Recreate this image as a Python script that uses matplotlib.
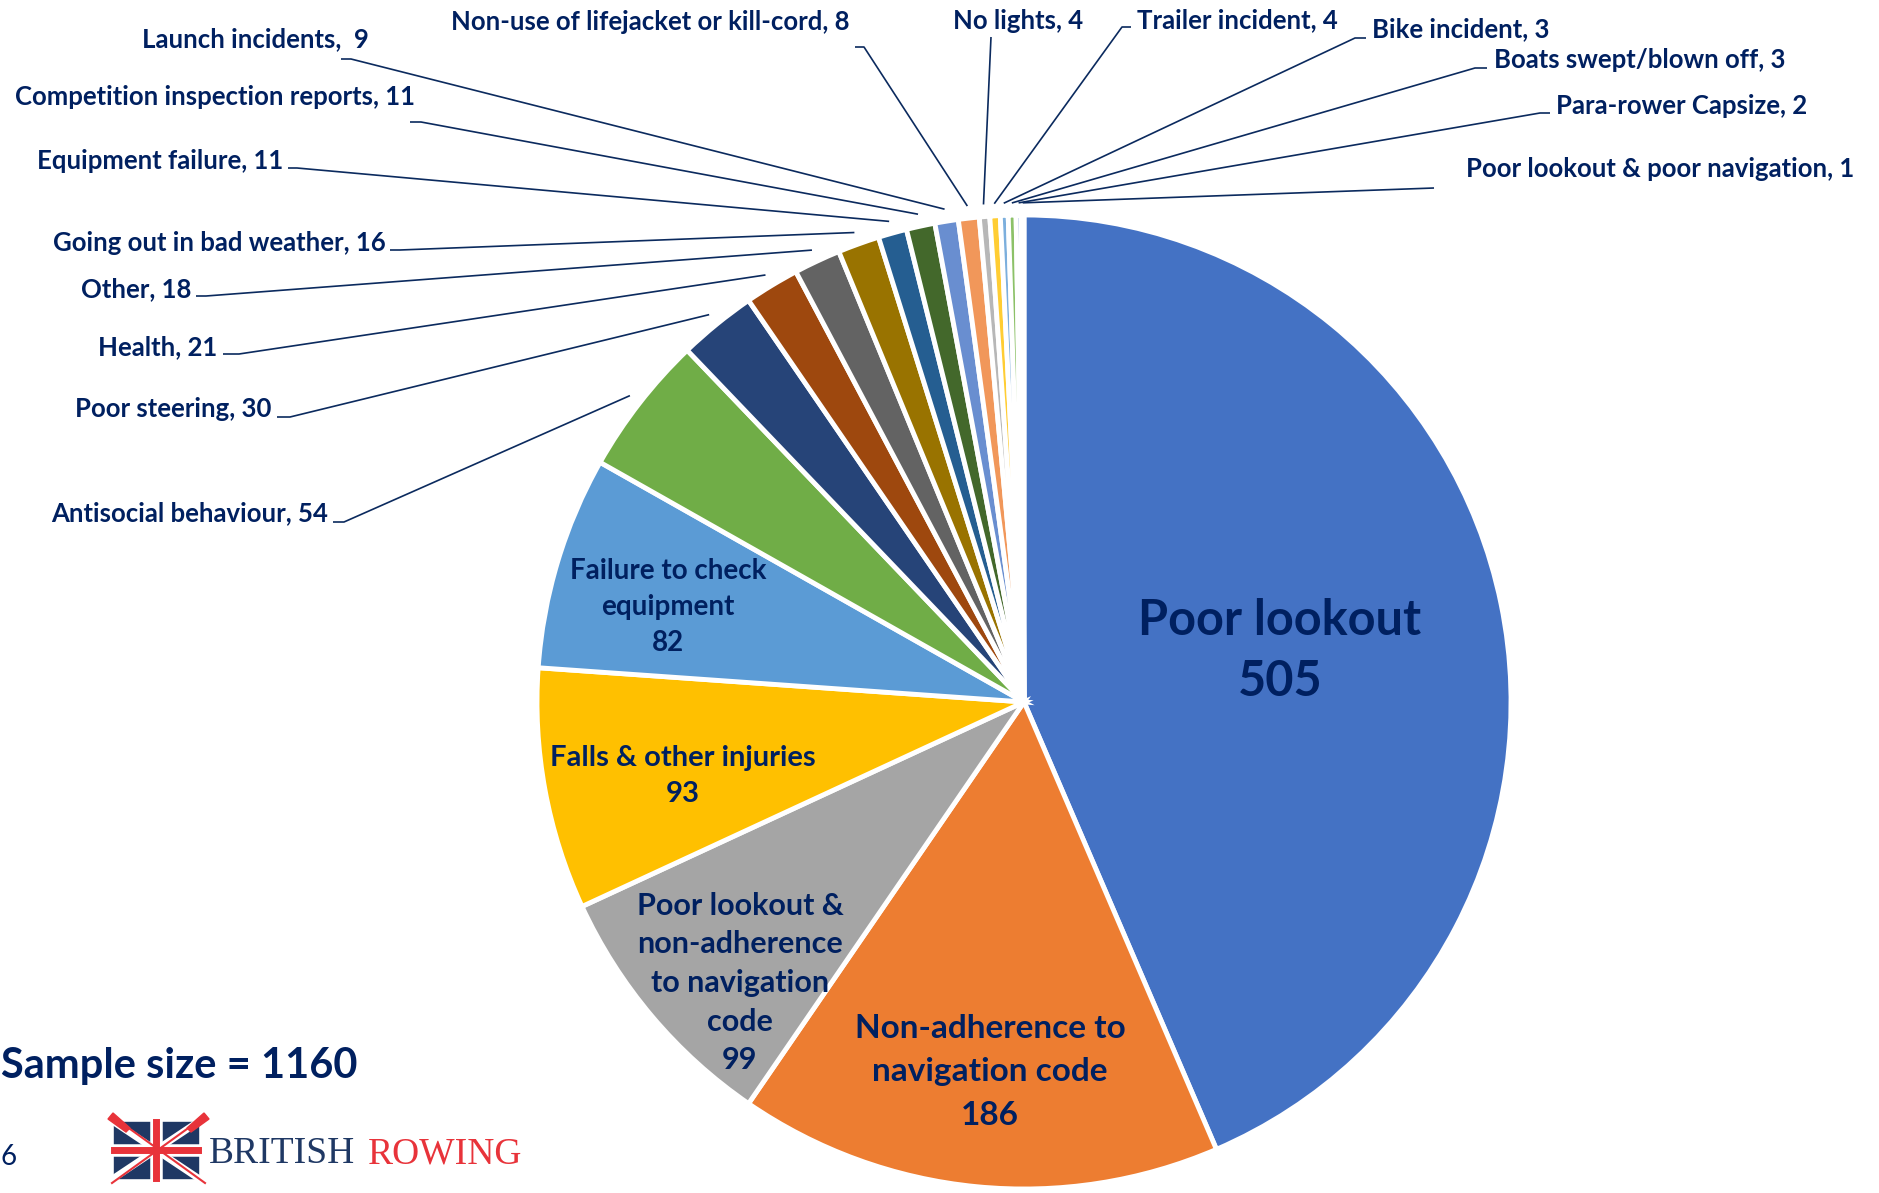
import numpy as np
import matplotlib
matplotlib.use("Agg")
import matplotlib.pyplot as plt
from matplotlib.patches import Rectangle, Polygon

# data, clockwise from 12 o'clock
categories = ["Poor lookout", "Non-adherence to navigation code",
              "Poor lookout & non-adherence to navigation code",
              "Falls & other injuries", "Failure to check equipment",
              "Antisocial behaviour", "Poor steering", "Health", "Other",
              "Going out in bad weather", "Equipment failure",
              "Competition inspection reports", "Launch incidents",
              "Non-use of lifejacket or kill-cord", "No lights",
              "Trailer incident", "Bike incident", "Boats swept/blown off",
              "Para-rower Capsize", "Poor lookout & poor navigation"]
counts = [505, 186, 99, 93, 82, 54, 30, 21, 18, 16, 11, 11, 9, 8, 4, 4, 3, 3, 2, 1]
sample_size = 1160

colors = ["#4472C4", "#ED7D31", "#A5A5A5", "#FFC000", "#5B9BD5", "#70AD47",
          "#264478", "#9E480E", "#636363", "#997300", "#255E91", "#43682B",
          "#698ED0", "#F1975A", "#B7B7B7", "#FFCD33", "#7CAFDD", "#8CC168",
          "#8FAADC", "#B4C7E7"]

NAVY = "#002060"
W, H = 1879, 1193
FONT = ["Lato", "DejaVu Sans"]


def Y(y):
    # image y (down) -> data y (up)
    return H - y


fig = plt.figure(figsize=(W / 100, H / 100), dpi=100)
ax = fig.add_axes([0, 0, 1, 1])

cx, cy, r = 1024, Y(702), 487
explode = [0.03] + [0] * (len(counts) - 1)
ax.pie(counts, colors=colors, startangle=90, counterclock=False,
       radius=r, center=(cx, cy), explode=explode,
       wedgeprops={"linewidth": 3.5, "edgecolor": "white"})
ax.set_xlim(0, W)
ax.set_ylim(0, H)
ax.set_aspect("auto")
ax.axis("off")

# labels inside the big slices: index -> (x, y, size, wrapped name, linespacing)
inner = {
    0: (1280, 651, 35, "Poor lookout", 1.45),
    1: (990, 1072, 24, "Non-adherence to\nnavigation code", 1.6),
    2: (740, 983, 22, "Poor lookout &\nnon-adherence\nto navigation\ncode", 1.46),
    3: (683, 776, 21, "Falls & other injuries", 1.48),
    4: (668, 607, 20, "Failure to check\nequipment", 1.46),
}
for i, (x, y, fs, name, ls) in inner.items():
    ax.text(x, Y(y), f"{name}\n{counts[i]}", ha="center", va="center",
            fontsize=fs, fontweight="bold", color=NAVY, family=FONT,
            linespacing=ls)

# outside labels: index -> (text x, text y, ha, leader points)
outer = {
    5: (328, 513, "right", [(333, 522), (344, 522)]),
    6: (271, 409, "right", [(277, 417), (290, 417)]),
    7: (217, 347, "right", [(223, 354), (239, 354)]),
    8: (191, 289, "right", [(196, 296), (206, 296)]),
    9: (386, 243, "right", [(390, 250), (400, 250)]),
    10: (283, 161, "right", [(288, 168), (297, 168)]),
    11: (415, 97, "right", [(410, 122), (421, 122)]),
    12: (369, 39, "right", [(341, 59), (351, 59)]),
    13: (850, 22, "right", [(855, 47), (864, 47)]),
    14: (953, 21, "left", [(991, 37)]),
    15: (1137, 20, "left", [(1131, 27), (1122, 27)]),
    16: (1372, 29, "left", [(1366, 38), (1355, 38)]),
    17: (1494, 60, "left", [(1487, 68), (1475, 68)]),
    18: (1556, 106, "left", [(1550, 113), (1540, 113)]),
    19: (1466, 169, "left", [(1434, 188)]),
}
total = sum(counts)
cum = np.cumsum([0] + counts)
for i, (tx, ty, ha, pts) in outer.items():
    sep = ",  " if categories[i] == "Launch incidents" else ", "
    ax.text(tx, Y(ty), f"{categories[i]}{sep}{counts[i]}", ha=ha, va="center",
            fontsize=18.5, fontweight="bold", color=NAVY, family=FONT)
    mid = (cum[i] + cum[i + 1]) / 2 / total
    th = np.radians(90 - 360 * mid)
    px, py = cx + 1.025 * r * np.cos(th), cy + 1.025 * r * np.sin(th)
    xs = [p[0] for p in pts] + [px]
    ys = [Y(p[1]) for p in pts] + [py]
    ax.plot(xs, ys, color="#0B2A5E", lw=1.2, solid_capstyle="butt")

ax.text(358, Y(1066), f"Sample size = {sample_size}", ha="right", va="center",
        fontsize=30, fontweight="bold", color=NAVY, family=FONT)
ax.text(0, Y(1157), "6", ha="left", va="center", fontsize=20, color=NAVY,
        family=FONT)

# British Rowing logo (rough)
red, navy = "#E8333A", "#1F3864"
ax.add_patch(Rectangle((114, Y(1178)), 84, 56, color=navy, zorder=3))
ax.plot([114, 198], [Y(1122), Y(1178)], color="white", lw=5, zorder=4)
ax.plot([114, 198], [Y(1178), Y(1122)], color="white", lw=5, zorder=4)
ax.plot([156, 156], [Y(1122), Y(1178)], color="white", lw=9, zorder=4)
ax.plot([114, 198], [Y(1150), Y(1150)], color="white", lw=9, zorder=4)
ax.plot([156, 156], [Y(1122), Y(1178)], color=red, lw=5, zorder=5)
ax.plot([114, 198], [Y(1150), Y(1150)], color=red, lw=5, zorder=5)
ax.plot([112, 205], [Y(1116), Y(1183)], color=red, lw=1.5, zorder=6)
ax.plot([112, 205], [Y(1183), Y(1116)], color=red, lw=1.5, zorder=6)
ax.add_patch(Polygon([(108, Y(1119)), (113, Y(1113)), (130, Y(1128)), (126, Y(1132))],
                     color=red, zorder=6))
ax.add_patch(Polygon([(209, Y(1119)), (204, Y(1113)), (187, Y(1128)), (191, Y(1132))],
                     color=red, zorder=6))
serif = ["Liberation Serif", "DejaVu Serif"]
ax.text(209, Y(1154), "BRITISH", ha="left", va="center", fontsize=27,
        color=navy, family=serif)
ax.text(368, Y(1154), "ROWING", ha="left", va="center", fontsize=27,
        color=red, family=serif)

fig.savefig("out.png", dpi=100)
